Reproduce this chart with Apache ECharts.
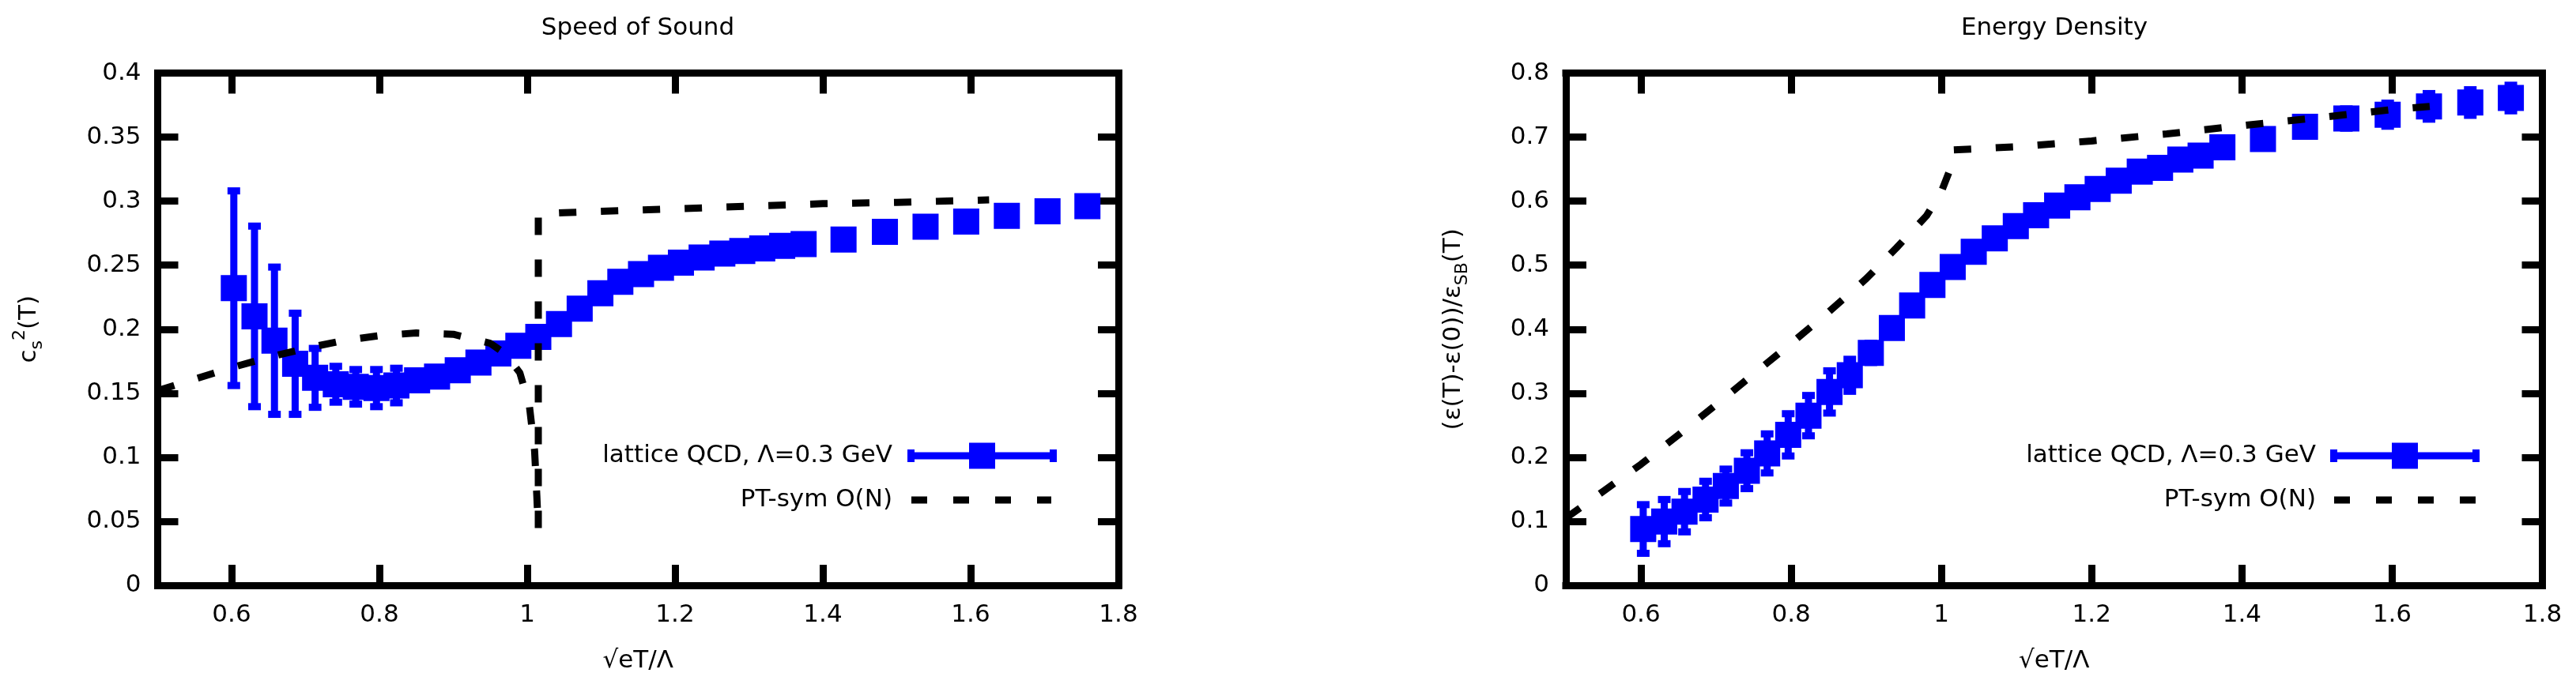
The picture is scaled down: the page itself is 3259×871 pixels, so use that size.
<!DOCTYPE html>
<html lang="en">
<head>
  <meta charset="UTF-8">
  <title>Speed of Sound / Energy Density</title>
  <style type="text/css">
    html, body { margin: 0; padding: 0; background: #fff; }
    #main { width: 3259px; height: 871px; }
  </style>
</head>
<body>
<div id="main"></div>
<script type="text/javascript" src="https://cdn.jsdelivr.net/npm/echarts@6/dist/echarts.min.js"></script>
<script type="text/javascript">
  // lattice QCD points, x = sqrt(e)T/Lambda
  var xLat = [0.603, 0.631, 0.658, 0.686, 0.713, 0.741, 0.768, 0.796, 0.823, 0.851, 0.878, 0.906,
    0.934, 0.961, 0.988, 1.015, 1.043, 1.071, 1.099, 1.126, 1.154, 1.181, 1.208, 1.236,
    1.264, 1.291, 1.318, 1.345, 1.374, 1.428, 1.484, 1.539, 1.594, 1.649, 1.704, 1.758];
  // speed of sound c_s^2 and its error
  var cs2Lat = [0.232, 0.210, 0.191, 0.173, 0.162, 0.157, 0.155, 0.154, 0.156, 0.160, 0.163, 0.168,
    0.174, 0.181, 0.187, 0.194, 0.204, 0.216, 0.228, 0.237, 0.243, 0.248, 0.252, 0.256,
    0.259, 0.261, 0.263, 0.265, 0.2665, 0.270, 0.276, 0.280, 0.284, 0.2885, 0.292, 0.296];
  var cs2Err = [0.076, 0.0705, 0.0575, 0.0395, 0.023, 0.014, 0.0135, 0.0145, 0.0135, 0.006, 0.006, 0.006,
    0.006, 0.006, 0.006, 0.006, 0.006, 0.006, 0.006, 0.006, 0.006, 0.006, 0.006, 0.006,
    0.006, 0.006, 0.006, 0.006, 0.006, 0.006, 0.006, 0.006, 0.006, 0.006, 0.006, 0.006];
  // energy density (e(T)-e(0))/e_SB(T) and its error
  var epsLat = [0.088, 0.0995, 0.115, 0.134, 0.155, 0.179, 0.206, 0.235, 0.265, 0.302, 0.328, 0.363,
    0.402, 0.437, 0.469, 0.497, 0.521, 0.542, 0.561, 0.578, 0.593, 0.606, 0.619, 0.632,
    0.646, 0.652, 0.665, 0.671, 0.684, 0.697, 0.716, 0.729, 0.735, 0.748, 0.754, 0.761];
  var epsErr = [0.038, 0.0345, 0.0315, 0.0285, 0.0265, 0.028, 0.0305, 0.033, 0.0315, 0.033, 0.025, 0.015,
    0.008, 0.008, 0.008, 0.008, 0.008, 0.008, 0.008, 0.008, 0.008, 0.008, 0.008, 0.008,
    0.008, 0.008, 0.008, 0.008, 0.008, 0.01, 0.012, 0.015, 0.018, 0.02, 0.02, 0.02];

  // PT-symmetric O(N) curves
  var cs2PTx = [0.5, 0.55, 0.6, 0.65, 0.7, 0.75, 0.8, 0.85, 0.9, 0.95, 0.97, 0.99, 1.003, 1.01, 1.013, 1.015,
    1.015, 1.05, 1.1, 1.2, 1.3, 1.4, 1.5, 1.625];
  var cs2PTy = [0.152, 0.161, 0.170, 0.178, 0.185, 0.191, 0.195, 0.197, 0.196, 0.189, 0.181, 0.166, 0.140, 0.105, 0.070, 0.043,
    0.290, 0.291, 0.292, 0.294, 0.296, 0.298, 0.299, 0.301];
  var epsPTx = [0.5, 0.55, 0.6, 0.65, 0.7, 0.75, 0.8, 0.85, 0.9, 0.94, 0.98, 1.0, 1.01, 1.015,
    1.05, 1.1, 1.2, 1.3, 1.4, 1.5, 1.6, 1.65];
  var epsPTy = [0.105, 0.147, 0.189, 0.235, 0.282, 0.330, 0.378, 0.427, 0.479, 0.527, 0.577, 0.615, 0.645, 0.680,
    0.682, 0.685, 0.694, 0.705, 0.718, 0.730, 0.743, 0.748];

  var xTicks = [0.6, 0.8, 1, 1.2, 1.4, 1.6, 1.8];

  var FONT = 'DejaVu Sans';
  var BLUE = '#0000ff';
  var FS = 31;

  function pairs(xs, ys) {
    return xs.map(function (x, i) { return [x, ys[i]]; });
  }
  function errRows(xs, ys, es) {
    return xs.map(function (x, i) { return [x, ys[i], ys[i] - es[i], ys[i] + es[i]]; });
  }

  // yerrorbars + filled square, like gnuplot pt 5
  function renderLattice(params, api) {
    var c = api.coord([api.value(0), api.value(1)]);
    var lo = api.coord([api.value(0), api.value(2)]);
    var hi = api.coord([api.value(0), api.value(3)]);
    function st() { return { stroke: BLUE, lineWidth: 9, lineCap: 'butt' }; }
    return {
      type: 'group',
      children: [
        { type: 'line', shape: { x1: c[0], y1: lo[1], x2: c[0], y2: hi[1] }, style: st() },
        { type: 'line', shape: { x1: c[0] - 8, y1: lo[1], x2: c[0] + 8, y2: lo[1] }, style: st() },
        { type: 'line', shape: { x1: c[0] - 8, y1: hi[1], x2: c[0] + 8, y2: hi[1] }, style: st() },
        { type: 'rect', shape: { x: c[0] - 16.5, y: c[1] - 16.5, width: 33, height: 33 }, style: { fill: BLUE } }
      ]
    };
  }

  function frameLine() {
    return { show: true, onZero: false, lineStyle: { color: '#000', width: 9, cap: 'square' } };
  }
  function xAx(grid, pos, name) {
    var ax = {
      type: 'value', gridIndex: grid, position: pos, min: 0.5, max: 1.8,
      axisLine: frameLine(),
      axisTick: { show: true, inside: true, length: 26, customValues: xTicks, lineStyle: { color: '#000', width: 9 } },
      axisLabel: { show: pos === 'bottom', customValues: xTicks, fontSize: FS, fontFamily: FONT, color: '#000', margin: 22 },
      splitLine: { show: false }
    };
    if (name) {
      ax.name = name;
      ax.nameLocation = 'middle';
      ax.nameGap = 80;
      ax.nameTextStyle = { fontSize: FS, fontFamily: FONT, color: '#000' };
    }
    return ax;
  }
  function yAx(grid, pos, max, step, name, rich, gap) {
    var ax = {
      type: 'value', gridIndex: grid, position: pos, min: 0, max: max, interval: step,
      axisLine: frameLine(),
      axisTick: { show: true, inside: true, length: 26, lineStyle: { color: '#000', width: 9 } },
      axisLabel: { show: pos === 'left', fontSize: FS, fontFamily: FONT, color: '#000', margin: 21 },
      splitLine: { show: false }
    };
    if (name) {
      ax.name = name;
      ax.nameLocation = 'middle';
      ax.nameRotate = 90;
      ax.nameGap = gap;
      ax.nameTextStyle = { fontSize: FS, fontFamily: FONT, color: '#000', rich: rich };
    }
    return ax;
  }

  var richY = {
    m: { fontSize: FS, fontFamily: FONT, color: '#000', lineHeight: 44, verticalAlign: 'middle' },
    s: { fontSize: 22, fontFamily: FONT, color: '#000', lineHeight: 22, verticalAlign: 'bottom' },
    p: { fontSize: 22, fontFamily: FONT, color: '#000', lineHeight: 22, verticalAlign: 'top' }
  };

  function txt(s, x, y, align) {
    return {
      type: 'text', silent: true,
      style: { text: s, x: x, y: y, align: align, verticalAlign: 'middle', textAlign: align, textVerticalAlign: 'middle',
        fontSize: FS, fontFamily: FONT, fill: '#000' }
    };
  }
  // legend block: text right edge, sample line ends, two rows
  function legend(tx, x1, x2, d1, d2, y1, y2) {
    var mid = (x1 + x2) / 2;
    return [
      txt('lattice QCD, Λ=0.3 GeV', tx, y1, 'right'),
      { type: 'line', silent: true, shape: { x1: x1, y1: y1, x2: x2, y2: y1 }, style: { stroke: BLUE, lineWidth: 9 } },
      { type: 'rect', silent: true, shape: { x: x1, y: y1 - 8, width: 9, height: 16 }, style: { fill: BLUE } },
      { type: 'rect', silent: true, shape: { x: x2 - 9, y: y1 - 8, width: 9, height: 16 }, style: { fill: BLUE } },
      { type: 'rect', silent: true, shape: { x: mid - 16.5, y: y1 - 16.5, width: 33, height: 33 }, style: { fill: BLUE } },
      txt('PT-sym O(N)', tx, y2, 'right'),
      { type: 'line', silent: true, shape: { x1: d1, y1: y2, x2: d2, y2: y2 },
        style: { stroke: '#000', lineWidth: 9, lineDash: [20, 33], lineCap: 'butt' } }
    ];
  }

  var myChart = echarts.init(document.getElementById('main'), null, { renderer: 'canvas' });
  var option = {
    animation: false,
    backgroundColor: '#fff',
    grid: [
      { left: 199.5, top: 92.5, width: 1215.5, height: 648.5 },
      { left: 1981, top: 92.5, width: 1235.5, height: 648.5 }
    ],
    xAxis: [xAx(0, 'bottom', '√eT/Λ'), xAx(0, 'top'), xAx(1, 'bottom', '√eT/Λ'), xAx(1, 'top')],
    yAxis: [
      yAx(0, 'left', 0.4, 0.05, '{m|c}{s|s}{p|2}{m|(T)}', richY, 141),
      yAx(0, 'right', 0.4, 0.05),
      yAx(1, 'left', 0.8, 0.1, '{m|(ε(T)-ε(0))/ε}{s|SB}{m|(T)}', richY, 120),
      yAx(1, 'right', 0.8, 0.1)
    ],
    graphic: [
      txt('Speed of Sound', 807, 36, 'center'),
      txt('Energy Density', 2599, 36, 'center')
    ].concat(legend(1129, 1148, 1337, 1153, 1330, 577, 633))
     .concat(legend(2930, 2948, 3137, 2953, 3132, 577, 633)),
    series: [
      { type: 'custom', xAxisIndex: 0, yAxisIndex: 0, z: 2, silent: true,
        data: errRows(xLat, cs2Lat, cs2Err), renderItem: renderLattice, encode: { x: 0, y: 1 } },
      { type: 'line', xAxisIndex: 0, yAxisIndex: 0, z: 3, silent: true, showSymbol: false,
        data: pairs(cs2PTx, cs2PTy),
        lineStyle: { color: '#000', width: 9, type: [22, 31], cap: 'butt' } },
      { type: 'custom', xAxisIndex: 2, yAxisIndex: 2, z: 2, silent: true,
        data: errRows(xLat, epsLat, epsErr), renderItem: renderLattice, encode: { x: 0, y: 1 } },
      { type: 'line', xAxisIndex: 2, yAxisIndex: 2, z: 3, silent: true, showSymbol: false,
        data: pairs(epsPTx, epsPTy),
        lineStyle: { color: '#000', width: 9, type: [22, 31], cap: 'butt' } }
    ]
  };
  myChart.setOption(option);
</script>
</body>
</html>
